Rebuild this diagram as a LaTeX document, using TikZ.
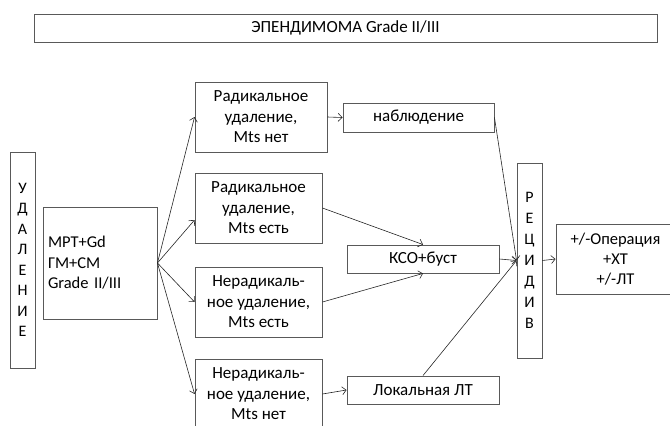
\documentclass[tikz,border=0pt]{standalone}
\usepackage{fontspec}
\setmainfont{Carlito}
\usetikzlibrary{arrows.meta,calc}
\begin{document}
\begin{tikzpicture}[x=1pt,y=-1pt,
  box/.style={draw=black!65, line width=0.9pt, inner sep=0pt, align=center,
    font=\fontsize{17}{20.5}\selectfont},
  arr/.style={draw=black!85, line width=0.6pt, -{Straight Barb[length=4pt,width=8pt]}}]
\useasboundingbox (0,0) rectangle (670,426);
\clip (0,0) rectangle (670,426);
\node[box, minimum width=623, minimum height=28] (title) at (345.5,28) {ЭПЕНДИМОМА Grade II/III};
\node[box, minimum width=25, minimum height=216, font=\fontsize{16}{20.5}\selectfont] (udal) at (22.5,260) {У\\Д\\А\\Л\\Е\\Н\\И\\Е};
\node[box, minimum height=112, text width=104, inner xsep=5, align=left, font=\fontsize{16.5}{20.5}\selectfont] (mrt) at (100,263) {МРТ+Gd\\ГМ+СМ\\Grade II/III};
\node[box, minimum width=132, minimum height=70] (r1) at (261,117) {Радикальное\\удаление,\\Mts нет};
\node[box, minimum width=127, minimum height=70] (r2) at (258.5,208) {Радикальное\\удаление,\\Mts есть};
\node[box, minimum width=127, minimum height=70] (r3) at (258.5,302) {Нерадикаль-\\ное удаление,\\Mts есть};
\node[box, minimum width=127, minimum height=70] (r4) at (258.5,394) {Нерадикаль-\\ное удаление,\\Mts нет};
\node[box, minimum width=151, minimum height=29] (nab) at (418.5,117.5) {наблюдение};
\node[box, minimum width=152, minimum height=28] (kso) at (423,259) {КСО+буст};
\node[box, minimum width=152, minimum height=28] (lok) at (423,390) {Локальная ЛТ};
\node[box, minimum width=25, minimum height=195, font=\fontsize{16}{21}\selectfont] (rec) at (529.5,260.5) {Р\\Е\\Ц\\И\\Д\\И\\В};
\node[box, minimum width=119, minimum height=70, font=\fontsize{16.5}{20}\selectfont] (out) at (615.5,259) {+/-Операция\\+ХТ\\+/-ЛТ};
\draw[arr] (mrt.east) -- (r1.west);
\draw[arr] (mrt.east) -- ($(r2.west)+(0,12)$);
\draw[arr] (mrt.east) -- (r3.west);
\draw[arr] (mrt.east) -- (r4.west);
\draw[arr] (r1.east) -- (nab.west);
\draw[arr] (r2.east) -- (kso.north);
\draw[arr] (r3.east) -- (kso.south);
\draw[arr] (r4.east) -- (lok.west);
\draw[arr] (nab.east) -- (rec.west);
\draw[arr] (kso.east) -- (rec.west);
\draw[arr] (lok.north) -- (rec.west);
\draw[arr] (rec.east) -- (out.west);
\end{tikzpicture}
\end{document}
